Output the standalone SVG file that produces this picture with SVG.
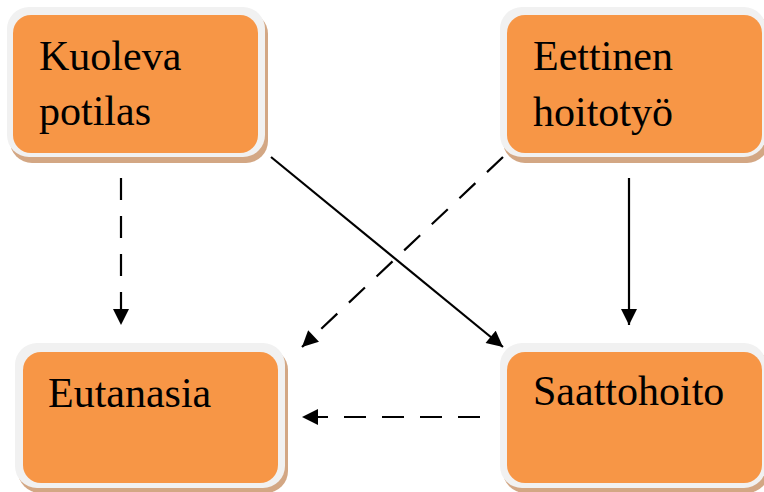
<svg xmlns="http://www.w3.org/2000/svg" width="764" height="492" viewBox="0 0 764 492">
<defs>
<style>
.sh{fill:#d3a784}
.bd{fill:#f1f1f1}
.fc{fill:#f79646}
.t{font-family:"Liberation Serif","Times New Roman",serif;font-size:42px;fill:#000}
.ln{stroke:#000;stroke-width:2.2;fill:none}
.ds{stroke-dasharray:22 16}
</style>
<marker id="ah" viewBox="0 0 10 10" refX="10" refY="5" markerWidth="17" markerHeight="16" markerUnits="userSpaceOnUse" orient="auto">
<path d="M0,0 L10,5 L0,10 Z" fill="#000"/>
</marker>
</defs>
<rect width="764" height="492" fill="#fff"/>
<g id="n-kuoleva">
<rect class="sh" x="10" y="12" width="258" height="151" rx="22"/>
<rect class="bd" x="7" y="7" width="258" height="150" rx="22"/>
<rect class="fc" x="13" y="15" width="245" height="138" rx="18"/>
<text class="t" x="39" y="70">Kuoleva</text>
<text class="t" x="39" y="125">potilas</text>
</g>
<g id="n-eettinen">
<rect class="sh" x="503" y="12" width="266" height="151" rx="22"/>
<rect class="bd" x="500" y="7" width="266" height="150" rx="22"/>
<rect class="fc" x="507" y="15" width="255" height="138" rx="18"/>
<text class="t" x="533" y="70">Eettinen</text>
<text class="t" x="533" y="126">hoitotyö</text>
</g>
<g id="n-eutanasia">
<rect class="sh" x="18" y="348" width="270" height="145" rx="22"/>
<rect class="bd" x="15" y="343" width="270" height="145" rx="22"/>
<rect class="fc" x="23" y="352" width="255" height="131" rx="18"/>
<text class="t" x="48" y="407">Eutanasia</text>
</g>
<g id="n-saattohoito">
<rect class="sh" x="503" y="348" width="266" height="145" rx="22"/>
<rect class="bd" x="500" y="343" width="266" height="145" rx="22"/>
<rect class="fc" x="507" y="352" width="255" height="131" rx="18"/>
<text class="t" x="533" y="405">Saattohoito</text>
</g>
<g id="connectors">
<line class="ln ds" x1="121" y1="178" x2="121" y2="325" marker-end="url(#ah)"/>
<line class="ln" x1="629" y1="178" x2="629" y2="325" marker-end="url(#ah)"/>
<line class="ln" x1="271" y1="157" x2="503" y2="347" marker-end="url(#ah)"/>
<line class="ln ds" x1="503" y1="157" x2="302" y2="347" marker-end="url(#ah)"/>
<line class="ln ds" x1="480" y1="417" x2="302" y2="417" marker-end="url(#ah)"/>
</g>
</svg>
